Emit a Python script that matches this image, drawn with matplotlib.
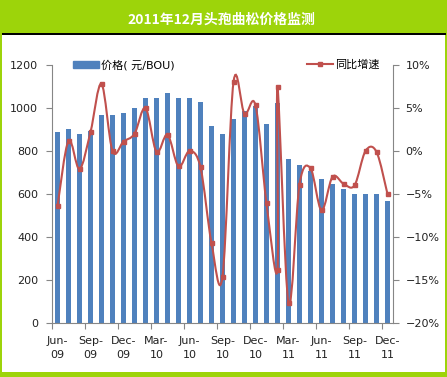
import numpy as np
import pandas as pd
import matplotlib
matplotlib.use('Agg')
import matplotlib.pyplot as plt
import matplotlib.patches as patches
from matplotlib.path import Path
from matplotlib.lines import Line2D

plt.rcParams['font.family'] = ['DejaVu Sans', 'Noto Sans CJK SC']
plt.rcParams['axes.unicode_minus'] = True

# ---- data ----
months = pd.period_range('2009-06', '2011-12', freq='M')
price = [890, 900, 880, 895, 967, 967, 978, 1000, 1047, 1047, 1070,
         1047, 1047, 1028, 916, 879, 949, 986, 1010, 925, 1023,
         763, 735, 708, 670, 646, 623, 600, 600, 600, 567]

# the growth series has two points for 2011-02
yoy_months = list(months[:20]) + [months[20], months[20]] + list(months[21:])
yoy = [-6.4, 1.2, -2.1, 2.2, 7.8, 0.0, 1.1, 2.0, 5.0, -0.1, 1.9,
       -1.8, 0.0, -1.9, -10.7, -14.6, 8.0, 4.3, 5.3, -6.1, -13.8, 7.4,
       -17.7, -3.9, -2.0, -6.9, -3.0, -3.8, -4.0, 0.0, -0.1, -5.0]

title = '2011年12月头孢曲松价格监测'
bar_label = '价格( 元/BOU)'
line_label = '同比增速'

GREEN = '#9DD40A'
BLUE = '#4F81BD'
RED = '#C0504D'
AXIS = '#868686'
W, H = 447, 377


def excel_smooth(x, y):
    # Excel style smoothed line: cubic bezier through each point
    pts = np.column_stack([x, y]).astype(float)
    n = len(pts)
    verts = [pts[0]]
    codes = [Path.MOVETO]
    for i in range(n - 1):
        p0 = pts[i - 1] if i > 0 else pts[i]
        p1 = pts[i]
        p2 = pts[i + 1]
        p3 = pts[i + 2] if i + 2 < n else pts[i + 1]
        verts += [p1 + (p2 - p0) / 6, p2 - (p3 - p1) / 6, p2]
        codes += [Path.CURVE4] * 3
    return Path(verts, codes)


fig = plt.figure(figsize=(W / 100, H / 100), dpi=100, facecolor=GREEN)

# white panel and black rule under the title band
fig.patches.append(patches.Rectangle((2 / W, 5 / H), 443 / W, 337 / H,
                                     transform=fig.transFigure, facecolor='white',
                                     edgecolor='none', zorder=-10))
fig.patches.append(patches.Rectangle((2 / W, 342 / H), 444 / W, 2 / H,
                                     transform=fig.transFigure, facecolor='black',
                                     edgecolor='none', zorder=-10))
fig.text(221 / W, 1 - 19.5 / H, title, ha='center', va='center', color='white',
         fontsize=10, fontweight='bold', family=['Noto Sans CJK SC'])

ax = fig.add_axes([52 / W, 1 - 323 / H, 341 / W, 258 / H])
ax.set_facecolor('none')
pos = {m: i for i, m in enumerate(months)}
x = np.arange(len(months))
bars = ax.bar(x, price, width=0.47, color=BLUE, zorder=2)

ax.set_xlim(-0.5, len(months) - 0.5)
ax.set_ylim(0, 1200)
ax.set_yticks(range(0, 1201, 200))

# ticks at quarter boundaries, labels at the quarter months
ax.set_xticks(np.arange(-0.5, len(months) - 1, 3))
ax.set_xticklabels([])
lab_idx = x[::3]
ax.set_xticks(lab_idx, minor=True)
ax.set_xticklabels([months[i].strftime('%b-\n%y') for i in lab_idx], minor=True,
                   linespacing=1.6)
ax.tick_params(axis='x', which='minor', length=0, pad=9, labelsize=8, colors='#222222')
ax.tick_params(axis='x', which='major', length=4, direction='out', color=AXIS)
ax.tick_params(axis='y', length=4, direction='out', color=AXIS, labelsize=8,
               labelcolor='#222222', pad=6)
for s in ['top', 'right']:
    ax.spines[s].set_visible(False)
for s in ['left', 'bottom']:
    ax.spines[s].set_color(AXIS)

ax2 = ax.twinx()
lx = [pos[m] for m in yoy_months]
ax2.add_patch(patches.PathPatch(excel_smooth(lx, yoy), fill=False, edgecolor=RED,
                                lw=1.5, zorder=3))
ax2.plot(lx, yoy, 's', color=RED, markersize=3.5, zorder=4)
ax2.set_ylim(-20, 10)
ax2.set_yticks(range(-20, 11, 5))
ax2.set_yticklabels(['{:.0f}%'.format(v).replace('-', '\u2212') for v in range(-20, 11, 5)])
ax2.tick_params(axis='y', length=4, direction='out', color=AXIS, labelsize=8,
                labelcolor='#222222', pad=5)
for s in ['top', 'left', 'bottom']:
    ax2.spines[s].set_visible(False)
ax2.spines['right'].set_color(AXIS)

leg1 = ax2.legend(handles=[patches.Patch(color=BLUE)], labels=[bar_label],
                  loc='center left', bbox_to_anchor=(73 / W, 1 - 65 / H),
                  bbox_transform=fig.transFigure, frameon=False, fontsize=8,
                  borderpad=0, borderaxespad=0, handlelength=2.3, handleheight=0.55,
                  handletextpad=0.25)
ax2.add_artist(leg1)
ax2.legend(handles=[Line2D([], [], color=RED, lw=1.5, marker='s', markersize=3.5)],
           labels=[line_label], loc='center left', bbox_to_anchor=(307 / W, 1 - 65 / H),
           bbox_transform=fig.transFigure, frameon=False, fontsize=8,
           borderpad=0, borderaxespad=0, handlelength=2.3, handletextpad=0.25)

fig.savefig('out.png', dpi=100, facecolor=GREEN)
